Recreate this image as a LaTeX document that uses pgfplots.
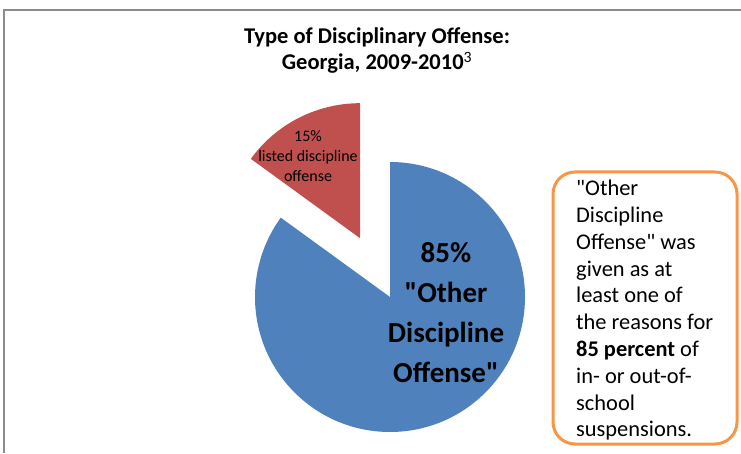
\documentclass[border=0pt]{standalone}
\usepackage{pgfplots}
\pgfplotsset{compat=1.18}
\usepackage{fontspec}
\setmainfont{Carlito}
\definecolor{pieblue}{HTML}{4F81BD}
\definecolor{piered}{HTML}{C0504D}
\definecolor{boxorange}{HTML}{F79646}
\definecolor{framegray}{HTML}{8C8C8C}

% shares of the two offense types (percent)
\def\shareOther{85}
\def\shareListed{15}

\begin{document}
\begin{tikzpicture}
\begin{axis}[
  x=1pt, y=1pt, scale only axis,
  xmin=0, xmax=741, ymin=0, ymax=453,
  hide axis, clip=false,
]
\coordinate (SW) at (axis cs:0,0);
\coordinate (NE) at (axis cs:741,453);
% chart frame
\draw[framegray, line width=2pt] (axis cs:4,0) -- (axis cs:4,443) -- (axis cs:741,443);

% pie: centre, radius, explode distance
\pgfmathsetmacro{\endA}{90-3.6*\shareOther}
\pgfmathsetmacro{\midB}{90+1.8*\shareListed}
\fill[pieblue] (axis cs:390,156) -- ++(90:135pt)
  arc[start angle=90, end angle=\endA, radius=135pt] -- cycle;
\fill[piered] (axis cs:390,156) ++(\midB:66pt) -- ++(90:135pt)
  arc[start angle=90, end angle=90+3.6*\shareListed, radius=135pt] -- cycle;

% title
\node[align=center, font=\fontsize{22.5}{26}\selectfont\bfseries] at (axis cs:377,402)
  {Type of Disciplinary Offense:\\Georgia, 2009-2010\textsuperscript{\mdseries 3}};

% slice labels
\node[align=center, font=\fontsize{29}{40}\selectfont\bfseries] at (axis cs:446,140)
  {85\%\\\textquotedbl Other\\Discipline\\Offense\textquotedbl};
\node[align=center, font=\fontsize{16}{20}\selectfont] at (axis cs:308,297)
  {15\%\\listed discipline\\offense};

% note box
\draw[boxorange, line width=3pt, rounded corners=22pt]
  (axis cs:553,9) rectangle (axis cs:737,281);
\node[align=left, anchor=north west, inner sep=0pt, font=\fontsize{22.4}{26.8}\selectfont]
  at (axis cs:576,273)
  {\textquotedbl Other\\Discipline\\Offense\textquotedbl{} was\\given as at\\least one of\\the reasons for\\\textbf{85 percent} of\\in- or out-of-\\school\\suspensions.};
\end{axis}
\pgfresetboundingbox
\path (SW) rectangle (NE);
\end{tikzpicture}
\end{document}
